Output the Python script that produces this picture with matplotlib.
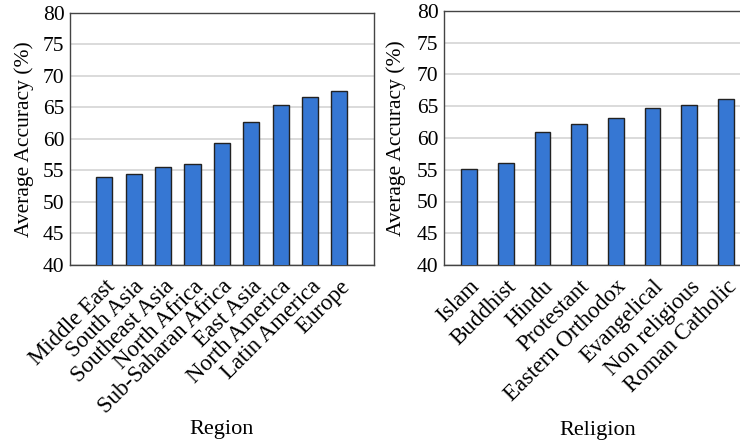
import numpy as np
import matplotlib
matplotlib.use("Agg")
import matplotlib.pyplot as plt

regions = ["Middle East", "South Asia", "Southeast Asia", "North Africa",
           "Sub-Saharan Africa", "East Asia", "North America", "Latin America", "Europe"]
region_acc = [54.0, 54.5, 55.6, 56.0, 59.3, 62.6, 65.4, 66.6, 67.6]

religions = ["Islam", "Buddhist", "Hindu", "Protestant", "Eastern Orthodox",
             "Evangelical", "Non religious", "Roman Catholic"]
religion_acc = [55.1, 56.0, 61.0, 62.2, 63.2, 64.7, 65.2, 66.1]

yticks = list(range(40, 81, 5))

plt.rcParams["font.family"] = ["Liberation Serif", "DejaVu Serif"]
plt.rcParams["font.size"] = 15.5

fig = plt.figure(figsize=(7.4, 4.43), dpi=100)
ax1 = fig.add_axes([70 / 740, 1 - 265 / 443, 304 / 740, 252.3 / 443])
ax2 = fig.add_axes([444 / 740, 1 - 265 / 443, 307 / 740, 254 / 443])


def draw(ax, names, vals, width, xlim, xlabel, ylab_x):
    x = np.arange(len(names))
    ax.bar(x, vals, width=width, color="#3677d3", edgecolor="#222222",
           linewidth=1.0, zorder=3)
    ax.set_ylim(40, 80)
    ax.set_xlim(*xlim)
    ax.set_yticks(yticks)
    ax.set_xticks(x)
    ax.set_xticklabels(names, rotation=45, ha="right", rotation_mode="anchor",
                       fontsize=16.5)
    ax.tick_params(axis="x", length=0, pad=8)
    ax.tick_params(axis="y", length=0, pad=4)
    ax.grid(axis="y", color="#d4d4d4", linewidth=1.2, zorder=0)
    for s in ax.spines.values():
        s.set_color("#444444")
        s.set_linewidth(1.0)
    ax.set_ylabel("Average Accuracy (%)", fontsize=15.5)
    ax.yaxis.set_label_coords(ylab_x, 0.5)
    ax.set_xlabel(xlabel, fontsize=16)
    ax.xaxis.set_label_coords(0.5, -0.615)


draw(ax1, regions, region_acc, 0.55, (-1.17, 9.18), "Region", -0.12)
draw(ax2, religions, religion_acc, 0.43, (-0.68, 7.68), "Religion", -0.125)

fig.savefig("out.png", dpi=100)
